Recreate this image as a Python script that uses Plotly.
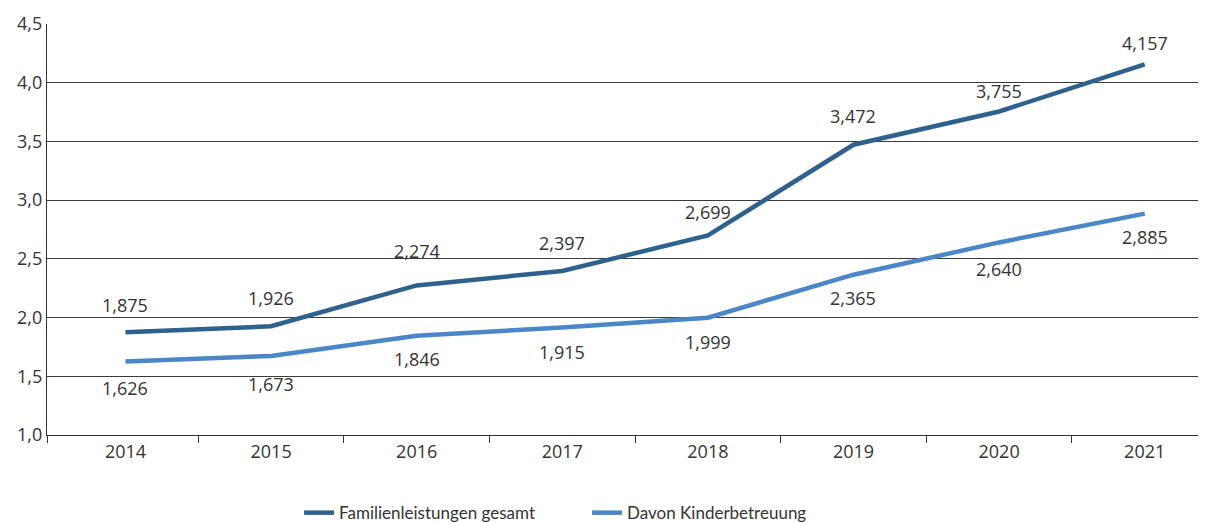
import plotly.graph_objects as go

years = ["2014", "2015", "2016", "2017", "2018", "2019", "2020", "2021"]
familien = [1.875, 1.926, 2.274, 2.397, 2.699, 3.472, 3.755, 4.157]
kinder = [1.626, 1.673, 1.846, 1.915, 1.999, 2.365, 2.640, 2.885]
series_names = ["Familienleistungen gesamt", "Davon Kinderbetreuung"]

# label offsets in pixels (style only): positive = above the point
fam_dy = [27, 28, 34, 28, 23, 29, 20, 21]
kin_dy = [-27, -28, -23, -24, -24, -23, -27, -23]

dark = "#2e628c"
light = "#4a86c8"
txt = "#333333"
font = "Open Sans"

xs = list(range(len(years)))

fig = go.Figure()
fig.add_trace(go.Scatter(x=xs, y=familien, mode="lines", name=series_names[0],
                         line=dict(color=dark, width=4.5)))
fig.add_trace(go.Scatter(x=xs, y=kinder, mode="lines", name=series_names[1],
                         line=dict(color=light, width=4.5)))

def fmt(v):
    return f"{v:.3f}".replace(".", ",")

for vals, dys in ((familien, fam_dy), (kinder, kin_dy)):
    for i, (v, d) in enumerate(zip(vals, dys)):
        fig.add_annotation(x=xs[i], y=v, text=fmt(v), showarrow=False, yshift=d,
                           font=dict(family=font, size=18, color=txt))

fig.update_layout(
    width=1206, height=523,
    margin=dict(l=39, r=0, t=16, b=96, autoexpand=False),
    paper_bgcolor="white", plot_bgcolor="white",
    separators=",.",
    font=dict(family=font, size=18, color=txt),
    showlegend=True,
    legend=dict(orientation="h", x=0.216, xanchor="left", y=-0.19, yanchor="middle",
                font=dict(family="Lato", size=17, color=txt),
                entrywidth=243, entrywidthmode="pixels", itemwidth=30,
                bgcolor="rgba(0,0,0,0)"),
    xaxis=dict(range=[-0.539, 7.476], tickmode="array", tickvals=xs, ticktext=years,
               ticks="", showgrid=False, zeroline=False, automargin=False,
               showline=True, linecolor="#333333", linewidth=1.3,
               tickfont=dict(family=font, size=18, color=txt),
               minor=dict(tickmode="array", tickvals=[-0.539] + [i + 0.5 for i in range(7)],
                          ticks="outside", ticklen=7, tickcolor="#333333", tickwidth=1.3,
                          showgrid=False)),
    yaxis=dict(range=[1.0, 4.5], dtick=0.5, tick0=1.0, tickformat=".1f",
               showgrid=True, gridcolor="#3a3a3a", gridwidth=1.2, automargin=False,
               zeroline=False, showline=True, linecolor="#333333", linewidth=1.3,
               ticks="", tickfont=dict(family=font, size=18, color=txt)),
)

fig.write_html("out.html")
